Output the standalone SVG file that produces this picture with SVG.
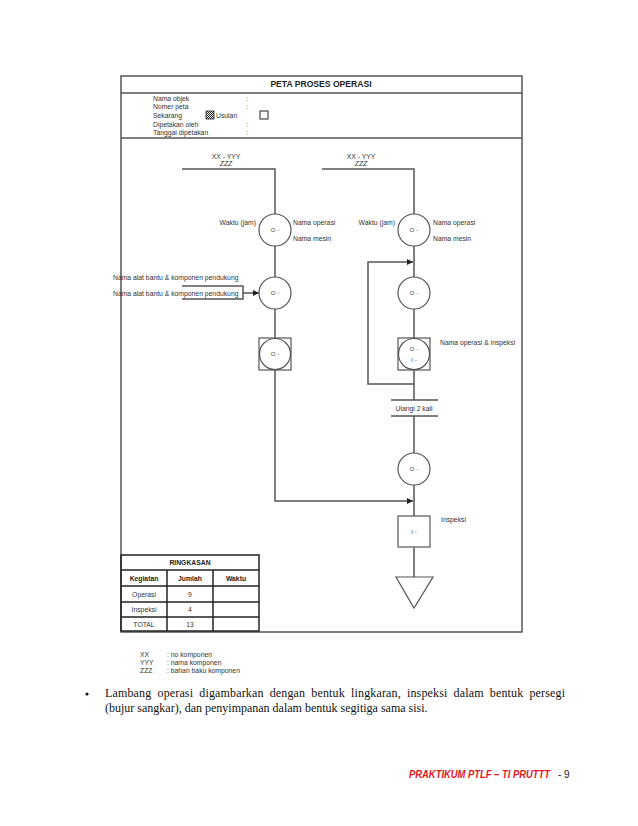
<svg xmlns="http://www.w3.org/2000/svg" width="638" height="826" viewBox="0 0 638 826">
<style>
.frame{fill:none;stroke:#555;stroke-width:1.5}
.ln{fill:none;stroke:#555;stroke-width:1.5}
.sym{fill:#fff;stroke:#555;stroke-width:1.2}
.tb{fill:none;stroke:#222;stroke-width:1.5}
.t{font-family:"Liberation Sans",Arial,sans-serif;font-size:6.8px;fill:#333}
.s{font-family:"Liberation Sans",Arial,sans-serif;font-size:6px;fill:#444}
.c{text-anchor:middle}
.b{font-weight:bold;fill:#222}
.body{font-family:"Liberation Serif","Times New Roman",serif;font-size:12px;fill:#111}
</style>
<defs>
<marker id="arr" viewBox="0 0 6 6" refX="6" refY="3" markerWidth="6" markerHeight="6" markerUnits="userSpaceOnUse" orient="auto">
<path d="M0,0 L6,3 L0,6 Z" fill="#222"/>
</marker>
<pattern id="chk" width="2" height="2" patternUnits="userSpaceOnUse">
<rect width="2" height="2" fill="#fff"/>
<rect width="1" height="1" fill="#222"/>
<rect x="1" y="1" width="1" height="1" fill="#222"/>
</pattern>
</defs>
<rect width="638" height="826" fill="#fff"/>

<g id="frame">
<rect class="frame" x="121" y="76" width="401" height="556"/>
<line class="frame" x1="121" y1="93" x2="522" y2="93"/>
<line class="frame" x1="121" y1="138" x2="522" y2="138"/>
<text class="t c b" x="321" y="87" style="font-size:8.6px">PETA PROSES OPERASI</text>
</g>

<g id="header">
<text class="t" x="153" y="100.5">Nama objek</text>
<text class="t" x="153" y="108.5">Nomer peta</text>
<text class="t" x="153" y="117.5">Sekarang</text>
<text class="t" x="153" y="126.5">Dipetakan oleh</text>
<text class="t" x="153" y="134.5">Tanggal dipetakan</text>
<text class="t" x="246" y="100.5">:</text>
<text class="t" x="246" y="108.5">:</text>
<text class="t" x="246" y="126.5">:</text>
<text class="t" x="246" y="134.5">:</text>
<rect x="206" y="111" width="8" height="8" fill="url(#chk)" stroke="#222" stroke-width="0.8"/>
<text class="t" x="216" y="117.5">Usulan</text>
<rect x="260" y="111" width="8" height="8" fill="#fff" stroke="#222" stroke-width="1"/>
</g>

<g id="connectors">
<polyline class="ln" points="182,169 275,169 275,214"/>
<line class="ln" x1="275" y1="246" x2="275" y2="277"/>
<line class="ln" x1="275" y1="309" x2="275" y2="338"/>
<polyline class="ln" points="275,370 275,501 413,501" marker-end="url(#arr)"/>
<polyline class="ln" points="182,286 243,286 243,299 182,299"/>
<line class="ln" x1="243" y1="293" x2="259" y2="293" marker-end="url(#arr)"/>
<polyline class="ln" points="322,169 414,169 414,214"/>
<line class="ln" x1="414" y1="246" x2="414" y2="277"/>
<polyline class="ln" points="414,384 368,384 368,262 413,262" marker-end="url(#arr)"/>
<line class="ln" x1="414" y1="309" x2="414" y2="338"/>
<line class="ln" x1="414" y1="370" x2="414" y2="400"/>
<line class="ln" x1="414" y1="416" x2="414" y2="453"/>
<line class="ln" x1="414" y1="485" x2="414" y2="516"/>
<line class="ln" x1="414" y1="547" x2="414" y2="577"/>
</g>

<g id="material-left">
<text class="t c" x="226" y="158.5">XX - YYY</text>
<text class="t c" x="226" y="165.5" font-style="italic">ZZZ</text>
</g>
<g id="material-right">
<text class="t c" x="361" y="158.5">XX - YYY</text>
<text class="t c" x="361" y="165.5" font-style="italic">ZZZ</text>
</g>

<g id="op-left-1">
<circle class="sym" cx="275" cy="230" r="16"/>
<text class="s c" x="275" y="232">O -</text>
<text class="t" x="256" y="225" text-anchor="end">Waktu (jam)</text>
<text class="t" x="293" y="225">Nama operasi</text>
<text class="t" x="293" y="241">Nama mesin</text>
</g>

<g id="support-labels">
<text class="t" x="113" y="279.5">Nama alat bantu &amp; komponen pendukung</text>
<text class="t" x="113" y="295.5">Nama alat bantu &amp; komponen pendukung</text>
</g>

<g id="op-left-2">
<circle class="sym" cx="275" cy="293" r="16"/>
<text class="s c" x="275" y="295">O -</text>
</g>

<g id="comb-left">
<rect class="sym" x="259" y="338" width="32" height="32"/>
<circle class="sym" cx="275" cy="354" r="15.5"/>
<text class="s c" x="275" y="356">O -</text>
</g>

<g id="op-right-1">
<circle class="sym" cx="414" cy="230" r="16"/>
<text class="s c" x="414" y="232">O -</text>
<text class="t" x="395" y="225" text-anchor="end">Waktu (jam)</text>
<text class="t" x="433" y="225">Nama operasi</text>
<text class="t" x="433" y="241">Nama mesin</text>
</g>

<g id="op-right-2">
<circle class="sym" cx="414" cy="293" r="16"/>
<text class="s c" x="414" y="295">O -</text>
</g>

<g id="comb-right">
<rect class="sym" x="398" y="338" width="32" height="32"/>
<circle class="sym" cx="414" cy="354" r="15.5"/>
<text class="s c" x="414" y="351">O -</text>
<text class="s c" x="414" y="362">I -</text>
<text class="t" x="440" y="345">Nama operasi &amp; inspeksi</text>
</g>

<g id="repeat">
<line class="ln" x1="391" y1="400" x2="438" y2="400"/>
<line class="ln" x1="391" y1="416" x2="438" y2="416"/>
<text class="t c" x="414" y="410.5">Ulangi 2 kali</text>
</g>

<g id="op-right-3">
<circle class="sym" cx="414" cy="469" r="16"/>
<text class="s c" x="414" y="471">O -</text>
</g>

<g id="inspection">
<rect class="sym" x="398" y="516" width="32" height="31"/>
<text class="s c" x="414" y="534">I -</text>
<text class="t" x="441" y="522">Inspeksi</text>
</g>

<g id="storage">
<polygon class="sym" points="396,577 433,577 414,608"/>
</g>

<g id="summary">
<rect class="tb" x="121" y="555" width="138" height="76"/>
<line class="tb" x1="121" y1="570" x2="259" y2="570"/>
<line class="tb" x1="121" y1="586" x2="259" y2="586"/>
<line class="tb" x1="121" y1="602" x2="259" y2="602"/>
<line class="tb" x1="121" y1="617" x2="259" y2="617"/>
<line class="tb" x1="167" y1="570" x2="167" y2="631"/>
<line class="tb" x1="213" y1="570" x2="213" y2="631"/>
<text class="t c b" x="190" y="564.5">RINGKASAN</text>
<text class="t c b" x="144" y="580.5">Kegiatan</text>
<text class="t c b" x="190" y="580.5">Jumlah</text>
<text class="t c b" x="236" y="580.5">Waktu</text>
<text class="t c" x="144" y="596.5">Operasi</text>
<text class="t c" x="190" y="596.5">9</text>
<text class="t c" x="144" y="612">Inspeksi</text>
<text class="t c" x="190" y="612">4</text>
<text class="t c" x="144" y="626.5">TOTAL</text>
<text class="t c" x="190" y="626.5">13</text>
</g>

<g id="legend">
<text class="t" x="140" y="656.5">XX</text>
<text class="t" x="167" y="656.5">: no komponen</text>
<text class="t" x="140" y="664.5">YYY</text>
<text class="t" x="167" y="664.5">: nama komponen</text>
<text class="t" x="140" y="672.5">ZZZ</text>
<text class="t" x="167" y="672.5">: bahan baku komponen</text>
</g>

<g id="paragraph">
<circle cx="87" cy="694" r="1.6" fill="#111"/>
<text class="body" x="105" y="697" textLength="460" lengthAdjust="spacing" word-spacing="3">Lambang operasi digambarkan dengan bentuk lingkaran, inspeksi dalam bentuk persegi</text>
<text class="body" x="105" y="712">(bujur sangkar), dan penyimpanan dalam bentuk segitiga sama sisi.</text>
</g>

<g id="footer">
<text x="409" y="778" font-family="'Liberation Sans',Arial,sans-serif" font-size="10px" font-weight="bold" font-style="italic" fill="#e8141b" textLength="141" lengthAdjust="spacingAndGlyphs">PRAKTIKUM PTLF – TI PRUTTT</text>
<text x="558" y="778" font-family="'Liberation Sans',Arial,sans-serif" font-size="10px" fill="#222">- 9</text>
</g>
</svg>
